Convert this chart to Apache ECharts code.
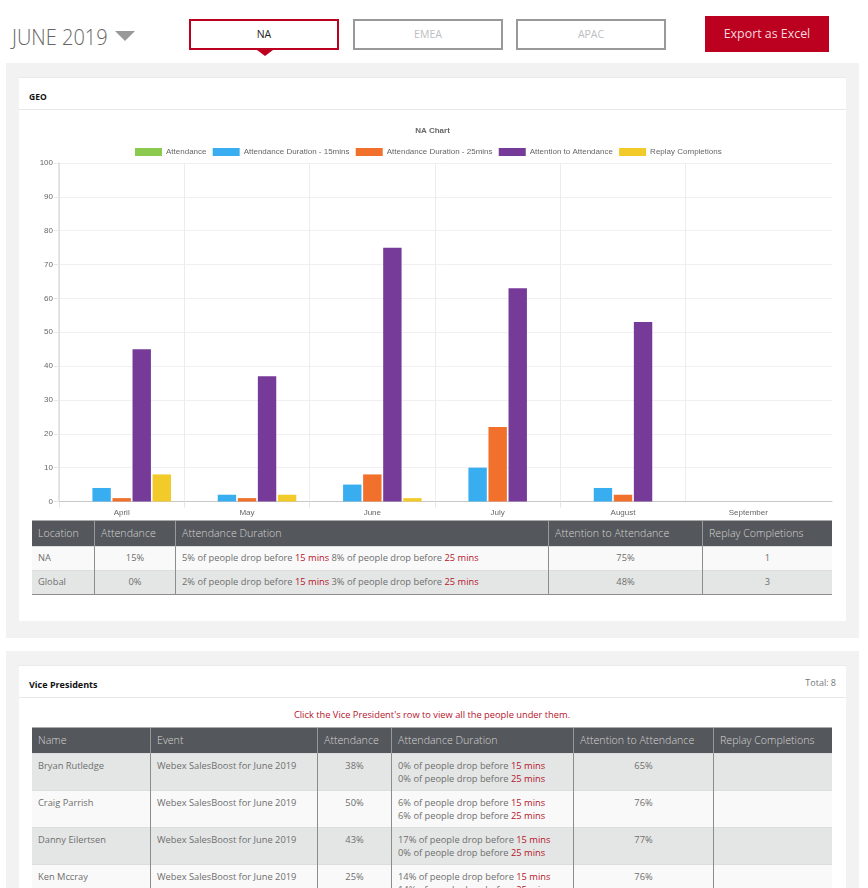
<!DOCTYPE html>
<html><head><meta charset="utf-8">
<script src="https://cdn.jsdelivr.net/npm/echarts@6/dist/echarts.min.js"></script>
<style>
html,body{margin:0;padding:0;background:#fff;width:868px;height:888px;overflow:hidden;font-family:"Open Sans",sans-serif;color:#666}
.a{position:absolute;box-sizing:border-box}
.panel{background:#f2f2f2}
.card{background:#fff;border-top:1px solid #eaeaea}
.rule{background:#e8e8e8;height:1px}
.tab{height:31px;width:150px;top:19px;border:2px solid #999;text-align:center;font-size:10.5px;line-height:27px;color:#bbbec0;background:#fff}
.tab.on{border-color:#bb0020;color:#222}
table{border-collapse:collapse;table-layout:fixed;font-size:9.3px;color:#6e6e6e}
th{background:#54575b;color:#d4d4d4;font-weight:300;font-size:10.65px;text-align:left;padding:0 0 2px 6px;border-left:1px solid #999;border-top:1px solid #aaa;overflow:hidden;white-space:nowrap}
td{padding:0 6px;border-left:1px solid #8c8c8c;vertical-align:top;white-space:nowrap;overflow:hidden}
th:first-child,td:first-child{border-left:none}
td.c{text-align:center}
.r1{background:#f9f9f9}.r2{background:#e4e6e5}
b.m{font-weight:400;color:#b5152b}
</style></head><body>
<div class="a" style="left:12px;top:21px;font-size:21.5px;font-weight:300;line-height:32px;color:#666;transform:scaleX(.93);transform-origin:0 0">JUNE 2019</div>
<div class="a" style="left:115px;top:31px;width:0;height:0;border-left:10px solid transparent;border-right:10px solid transparent;border-top:10px solid #999"></div>
<div class="a tab on" style="left:189px">NA</div>
<div class="a" style="left:257px;top:50px;width:0;height:0;border-left:8px solid transparent;border-right:8px solid transparent;border-top:6px solid #bb0020"></div>
<div class="a tab" style="left:353px">EMEA</div>
<div class="a tab" style="left:516px">APAC</div>
<div class="a" style="left:705px;top:16px;width:124px;height:36px;background:#bb0020;color:#f4d9dd;font-size:12.4px;line-height:35px;text-align:center">Export as Excel</div>

<div class="a panel" style="left:6px;top:63px;width:853px;height:575px"></div>
<div class="a card" style="left:19px;top:77px;width:827px;height:544px"></div>
<div class="a rule" style="left:19px;top:109px;width:827px"></div>
<div class="a" style="left:29px;top:90px;font-size:8.5px;font-weight:700;line-height:14px;color:#111">GEO</div>
<div id="chart" class="a" style="left:19px;top:115px;width:827px;height:405px"></div>
<div id="geo" class="a" style="left:32px;top:520px;width:800px"></div>

<div class="a panel" style="left:6px;top:651px;width:853px;height:237px"></div>
<div class="a card" style="left:19px;top:665px;width:827px;height:223px"></div>
<div class="a rule" style="left:19px;top:697px;width:827px"></div>
<div class="a" style="left:29px;top:678px;font-size:9px;font-weight:700;line-height:14px;color:#111">Vice Presidents</div>
<div class="a" style="left:746px;top:676px;width:90px;text-align:right;font-size:9px;line-height:14px;color:#777">Total: 8</div>
<div class="a" style="left:32px;top:708px;width:800px;text-align:center;font-size:9.3px;line-height:14px;color:#b5152b">Click the Vice President's row to view all the people under them.</div>
<div id="vp" class="a" style="left:32px;top:727px;width:800px"></div>

<script>
// ---- chart data ----
const months = ['April','May','June','July','August','September'];
const attendance = [0,0,0,0,0,0];
const duration15 = [4,2,5,10,4,0];
const duration25 = [1,1,8,22,2,0];
const attention = [45,37,75,63,53,0];
const replay = [8,2,1,0,0,0];
const yTicks = [0,10,20,30,40,50,60,70,80,90,100];

// ---- table data ----
const geoHead = ['Location','Attendance','Attendance Duration','Attention to Attendance','Replay Completions'];
const geoNames = ['NA','Global'];
const geoAttendance = ['15%','0%'];
const geoDrop15 = ['5%','2%'];
const geoDrop25 = ['8%','3%'];
const geoAttention = ['75%','48%'];
const geoReplay = ['1','3'];
const vpHead = ['Name','Event','Attendance','Attendance Duration','Attention to Attendance','Replay Completions'];
const vpNames = ['Bryan Rutledge','Craig Parrish','Danny Eilertsen','Ken Mccray'];
const vpEvent = 'Webex SalesBoost for June 2019';
const vpAttendance = ['38%','50%','43%','25%'];
const vpDrop15 = ['0%','6%','17%','14%'];
const vpDrop25 = ['0%','6%','0%','14%'];
const vpAttention = ['65%','76%','77%','76%'];

const drop = (p,m)=>`${p} of people drop before <b class="m">${m} mins</b>`;
const cols = w => '<colgroup>'+w.map(x=>`<col style="width:${x}px">`).join('')+'</colgroup>';
const head = (h,ht) => `<tr style="height:${ht}px">`+h.map(t=>`<th>${t}</th>`).join('')+'</tr>';

document.getElementById('geo').innerHTML =
 `<table style="width:800px">${cols([62.5,81,373,154,129.5])}${head(geoHead,26)}`+
 geoNames.map((n,i)=>`<tr class="${i?'r2':'r1'}" style="height:${i?23.5:24}px;line-height:22.5px;border-top:1px solid #ddd;${i?'border-bottom:1px solid #8c8c8c':''}">
 <td>${n}</td><td class="c">${geoAttendance[i]}</td><td>${drop(geoDrop15[i],15)} ${drop(geoDrop25[i],25)}</td><td class="c">${geoAttention[i]}</td><td class="c">${geoReplay[i]}</td></tr>`).join('')+'</table>';

document.getElementById('vp').innerHTML =
 `<table style="width:800px">${cols([118.5,167,74,182,140,118.5])}${head(vpHead,26)}`+
 vpNames.map((n,i)=>`<tr class="${i%2?'r1':'r2'}" style="height:37px;line-height:13px;border-top:1px solid #ddd">
 <td style="padding-top:5px">${n}</td><td style="padding-top:5px">${vpEvent}</td><td class="c" style="padding-top:5px">${vpAttendance[i]}</td>
 <td style="padding-top:5px">${drop(vpDrop15[i],15)}<br>${drop(vpDrop25[i],25)}</td><td class="c" style="padding-top:5px">${vpAttention[i]}</td><td></td></tr>`).join('')+'</table>';

const names = ['Attendance','Attendance Duration - 15mins','Attendance Duration - 25mins','Attention to Attendance','Replay Completions'];
const colors = ['#8bca4f','#38aef0','#f0702c','#763a99','#f2cb2a'];
const values = [attendance,duration15,duration25,attention,replay];
const font = 'Liberation Sans';
const chart = echarts.init(document.getElementById('chart'),null,{renderer:'canvas'});
chart.setOption({
  animation:false,
  title:{text:'NA Chart',left:'center',top:7,textStyle:{fontFamily:font,fontSize:8,fontWeight:'bold',color:'#666'}},
  legend:{left:111,top:28,itemWidth:27,itemHeight:8,itemGap:6.2,selectedMode:false,data:names,icon:'rect',
    textStyle:{fontFamily:font,fontSize:8,color:'#666',padding:[0,0,0,-1]}},
  grid:[
    {left:40,top:48,width:752,height:338.5},
    {left:40,top:48,width:773,height:338.5}
  ],
  xAxis:[
    {type:'category',gridIndex:0,data:months,
     axisLine:{show:false},axisTick:{show:false},
     axisLabel:{fontFamily:font,fontSize:8,color:'#666',margin:7},
     splitLine:{show:true,showMaxLine:false,lineStyle:{color:'#ececec'}}},
    {type:'value',gridIndex:1,min:0,max:773/(752/months.length),axisLabel:{show:false},
     axisTick:{show:true,length:6,customValues:months.slice(0,5).map((m,i)=>i),lineStyle:{color:'#e6e6e6'}},
     splitLine:{show:false},
     axisLine:{show:true,lineStyle:{color:'#c8c8c8'}}}
  ],
  yAxis:[
    {type:'value',gridIndex:0,min:0,max:100,interval:10,show:false,splitLine:{show:false}},
    {type:'value',gridIndex:1,min:yTicks[0],max:yTicks[yTicks.length-1],interval:10,
     axisLine:{show:true,lineStyle:{color:'#dcdcdc',width:1.5}},
     axisTick:{show:true,length:5,lineStyle:{color:'#e6e6e6'}},
     axisLabel:{fontFamily:font,fontSize:8,color:'#666',margin:6},
     splitLine:{show:true,lineStyle:{color:'#f0f0f0'}}}
  ],
  series:names.map((n,i)=>({name:n,type:'bar',xAxisIndex:0,yAxisIndex:0,data:values[i],
    barWidth:18.4,barGap:'9%',itemStyle:{color:colors[i]}}))
});
</script>
</body></html>
